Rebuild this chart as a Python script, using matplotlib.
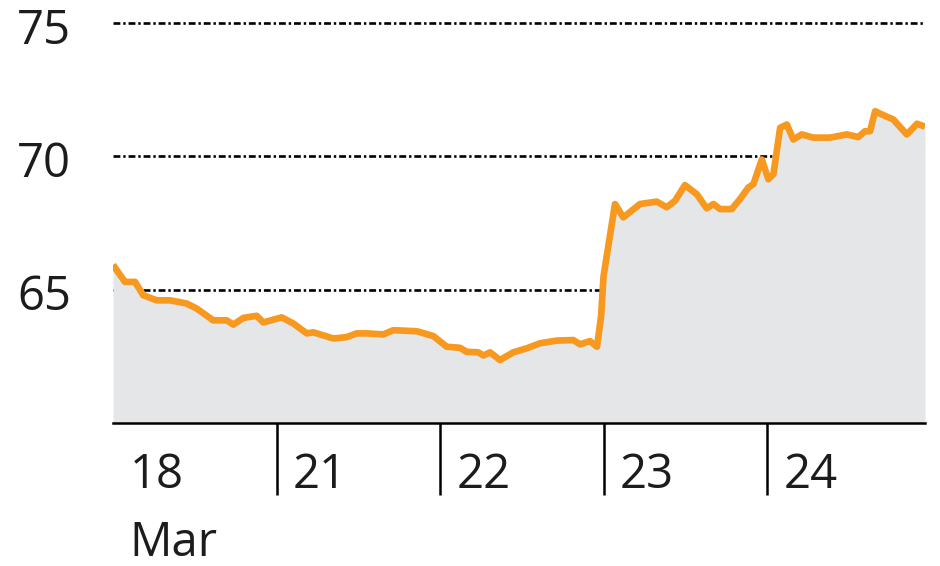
import matplotlib
matplotlib.use("Agg")
import matplotlib.pyplot as plt
import matplotlib.transforms as mtransforms

# Price series, x in trading days from 18 Mar open
day_pos = [0.00, 0.073, 0.135, 0.185, 0.267, 0.349, 0.451, 0.512, 0.613, 0.695,
           0.736, 0.797, 0.879, 0.919, 1.032, 1.103, 1.185, 1.225, 1.347, 1.429,
           1.490, 1.552, 1.653, 1.714, 1.858, 1.959, 2.041, 2.122, 2.163, 2.234,
           2.265, 2.306, 2.367, 2.448, 2.530, 2.612, 2.714, 2.815, 2.856, 2.917,
           2.960, 2.985, 3.000, 3.070, 3.121, 3.223, 3.325, 3.386, 3.437, 3.498,
           3.570, 3.631, 3.672, 3.713, 3.784, 3.835, 3.886, 3.917, 3.968, 4.008,
           4.039, 4.080, 4.121, 4.161, 4.212, 4.283, 4.385, 4.488, 4.558, 4.599,
           4.630, 4.661, 4.701, 4.772, 4.855, 4.885, 4.917, 4.966]
price = [65.93, 65.29, 65.29, 64.79, 64.60, 64.60, 64.48, 64.29, 63.85, 63.85,
         63.69, 63.94, 64.02, 63.77, 63.96, 63.73, 63.36, 63.40, 63.17, 63.22,
         63.36, 63.36, 63.32, 63.48, 63.44, 63.26, 62.86, 62.82, 62.67, 62.65,
         62.53, 62.65, 62.36, 62.65, 62.80, 62.99, 63.09, 63.11, 62.95, 63.07,
         62.86, 64.00, 65.50, 68.21, 67.71, 68.21, 68.30, 68.09, 68.33, 68.92,
         68.58, 68.05, 68.21, 68.02, 68.02, 68.40, 68.83, 68.96, 69.88, 69.14,
         69.33, 71.07, 71.19, 70.63, 70.82, 70.70, 70.70, 70.82, 70.72, 70.94,
         70.94, 71.69, 71.57, 71.38, 70.82, 71.01, 71.22, 71.11]

y_ticks = [65, 70, 75]
day_ticks = [1, 2, 3, 4]
day_labels = ["18", "21", "22", "23", "24"]

LINE = "#F7981F"
FILL = "#E5E6E8"
TEXT = "#1c1c1c"
FONT = "Open Sans"

fig = plt.figure(figsize=(9.4, 5.66), dpi=100)
ax = fig.add_axes([113 / 940, 143 / 566, 812 / 940, 423 / 566])
ax.set_xlim(0, 4.966)
ax.set_ylim(60, 75.86)

for v in y_ticks:
    ax.axhline(v, color="black", lw=1.9, ls=(0, (2.6, 1.1, 0.9, 1.1)), zorder=0)
ax.fill_between(day_pos, price, 60, color=FILL, lw=0, zorder=1)
ax.plot(day_pos, price, color=LINE, lw=4.8, solid_joinstyle="round",
        solid_capstyle="butt", zorder=2)

for s in ["top", "right", "left"]:
    ax.spines[s].set_visible(False)
ax.spines["bottom"].set_linewidth(1.8)
ax.spines["bottom"].set_zorder(3)
ax.set_yticks([])
ax.set_xticks(day_ticks)
ax.set_xticklabels([])
ax.tick_params(axis="x", length=52, width=1.8, direction="out", color="black")

# y labels at the far left
ytrans = mtransforms.blended_transform_factory(fig.transFigure, ax.transData)
for v in y_ticks:
    ax.text(17 / 940, v - 0.3, str(v), transform=ytrans, ha="left", va="center",
            fontsize=34, color=TEXT, family=FONT)

# day labels to the right of each tick
xtrans = mtransforms.blended_transform_factory(ax.transData, fig.transFigure)
for i, lab in enumerate(day_labels):
    ax.text(i + 0.10, 1 - 475 / 566, lab, transform=xtrans, ha="left", va="center",
            fontsize=34, color=TEXT, family=FONT)
ax.text(0.10, 1 - 543 / 566, "Mar", transform=xtrans, ha="left", va="center",
        fontsize=34, color=TEXT, family=FONT)

fig.savefig("out.png", dpi=100)
